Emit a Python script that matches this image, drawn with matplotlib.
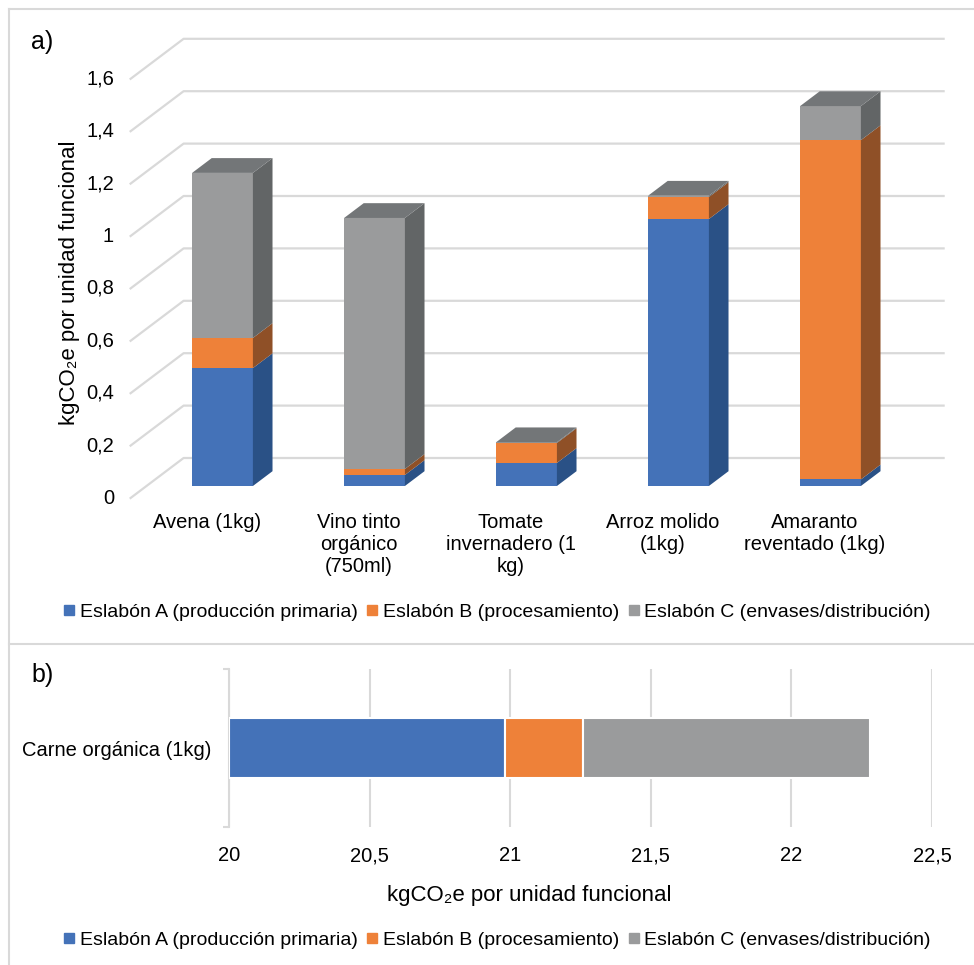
import matplotlib
matplotlib.use('Agg')
import matplotlib.pyplot as plt
from matplotlib.patches import Polygon, Rectangle
from matplotlib.lines import Line2D

plt.rcParams['font.family'] = ['Liberation Sans', 'DejaVu Sans']

# data, panel a
categories = ['Avena (1kg)', 'Vino tinto\norgánico\n(750ml)', 'Tomate\ninvernadero (1\nkg)',
              'Arroz molido\n(1kg)', 'Amaranto\nreventado (1kg)']
eslabon_a = [0.45, 0.042, 0.088, 1.019, 0.025]
eslabon_b = [0.115, 0.023, 0.076, 0.084, 1.295]
eslabon_c = [0.63, 0.958, 0.003, 0.005, 0.13]
yticks_a = [0, 0.2, 0.4, 0.6, 0.8, 1.0, 1.2, 1.4, 1.6]

# data, panel b
carne_label = 'Carne orgánica (1kg)'
carne_a = 20.98
carne_b = 0.28
carne_c = 1.02
xticks_b = [20, 20.5, 21, 21.5, 22, 22.5]

series_names = ['Eslabón A (producción primaria)', 'Eslabón B (procesamiento)',
                'Eslabón C (envases/distribución)']
front_cols = ['#4472B8', '#EE8139', '#9A9B9C']
side_cols = ['#2A5186', '#8F5027', '#626566']
top_cols = ['#34609E', '#B8652E', '#737678']
grid_col = '#D9D9D9'

W, H = 974, 965
fig = plt.figure(figsize=(W / 100, H / 100), dpi=100)


def fbox(left, top, right, bottom):
    return [left / W, 1 - bottom / H, (right - left) / W, (bottom - top) / H]


def fmt(v):
    return ('%g' % v).replace('.', ',')


# panel frames
fig.add_artist(Line2D([9 / W, 1], [1 - 9 / H] * 2, color=grid_col, lw=1.5))
fig.add_artist(Line2D([9 / W, 1], [1 - 644 / H] * 2, color=grid_col, lw=1.5))
fig.add_artist(Line2D([9 / W] * 2, [0, 1 - 9 / H], color=grid_col, lw=1.5))

# ---------- panel a: pseudo-3D stacked columns ----------
ax = fig.add_axes(fbox(0, 0, W, 640))
ax.set_xlim((0 - 222.5) / 152, (W - 222.5) / 152)
ax.set_ylim((486 - 640) / 262, 486 / 262)
ax.axis('off')

DX, DY = 53 / 152, 40 / 262     # full floor depth in data units
d_bar, d_len = 0.3, 0.37
bw = 0.4
n = len(categories)


def proj(x, v, d):
    return (x + DX * (d - d_bar), v + DY * (d - d_bar))


for t in yticks_a:
    p0 = proj(-0.5, t, 0)
    p1 = proj(-0.5, t, 1)
    p2 = proj(n - 0.5, t, 1)
    ax.plot([p0[0], p1[0], p2[0]], [p0[1], p1[1], p2[1]], color=grid_col, lw=1.6, zorder=1)
    ax.annotate(fmt(t), p0, xytext=(-12, 0), textcoords='offset points',
                ha='right', va='center', fontsize=14.5)

bx, by = DX * d_len, DY * d_len
for i in range(n):
    x0, x1 = i - bw / 2, i + bw / 2
    base = 0
    vals = [eslabon_a[i], eslabon_b[i], eslabon_c[i]]
    for k, v in enumerate(vals):
        top = base + v
        ax.add_patch(Rectangle((x0, base), bw, v, facecolor=front_cols[k], lw=0, zorder=3))
        ax.add_patch(Polygon([(x1, base), (x1 + bx, base + by), (x1 + bx, top + by), (x1, top)],
                             closed=True, facecolor=side_cols[k], lw=0, zorder=3))
        base = top
    ax.add_patch(Polygon([(x0, base), (x1, base), (x1 + bx, base + by), (x0 + bx, base + by)],
                         closed=True, facecolor=top_cols[2], lw=0, zorder=3))
    lx, ly = proj(i, 0, 0)
    ax.annotate(categories[i], (lx, ly), xytext=(0, -11), textcoords='offset points',
                ha='center', va='top', fontsize=14.5, linespacing=1.2)

ax.text((70 - 222.5) / 152, proj(0, 0.8, 0)[1] + 0.02, 'kgCO₂e por unidad funcional',
        rotation=90, ha='center', va='center', fontsize=16)
fig.text(31 / W, 1 - 42 / H, 'a)', fontsize=18, ha='left', va='center')

handles = [Line2D([], [], ls='none', marker='s', markersize=7.3, color=c) for c in front_cols]
fig.legend(handles, series_names, loc='center', bbox_to_anchor=(497 / W, 1 - 612 / H),
           ncol=3, frameon=False, fontsize=14, handlelength=0.6, handletextpad=0.25,
           columnspacing=0.45, borderpad=0)

# ---------- panel b: horizontal stacked bar ----------
axb = fig.add_axes(fbox(229, 669, 932, 827))
left = xticks_b[0]
widths = [carne_a - left, carne_b, carne_c]
for k, w in enumerate(widths):
    axb.barh([0], [w], left=left, height=0.38, color=front_cols[k], edgecolor='white',
             lw=1.5, zorder=3)
    left += w
axb.set_xlim(xticks_b[0], xticks_b[-1])
axb.set_ylim(-0.5, 0.5)
axb.set_xticks(xticks_b)
axb.set_xticklabels([fmt(t) for t in xticks_b], fontsize=14.5)
axb.set_yticks([0])
axb.set_yticklabels([carne_label], fontsize=14.5)
axb.set_yticks([-0.5, 0.5], minor=True)
axb.tick_params(length=0)
axb.tick_params(axis='y', which='minor', length=4, width=1.5, color=grid_col)
axb.tick_params(axis='x', pad=14)
axb.tick_params(axis='y', pad=13)
axb.grid(axis='x', color=grid_col, lw=1.5, zorder=0)
for s in ['top', 'right', 'bottom']:
    axb.spines[s].set_visible(False)
axb.spines['left'].set_color(grid_col)
axb.spines['left'].set_linewidth(1.5)

fig.text(529 / W, 1 - 896 / H, 'kgCO₂e por unidad funcional', fontsize=16,
         ha='center', va='center')
fig.text(31 / W, 1 - 675 / H, 'b)', fontsize=18, ha='left', va='center')
fig.legend(handles, series_names, loc='center', bbox_to_anchor=(497 / W, 1 - 940 / H),
           ncol=3, frameon=False, fontsize=14, handlelength=0.6, handletextpad=0.25,
           columnspacing=0.45, borderpad=0)

fig.savefig('out.png', dpi=100, facecolor='white')
